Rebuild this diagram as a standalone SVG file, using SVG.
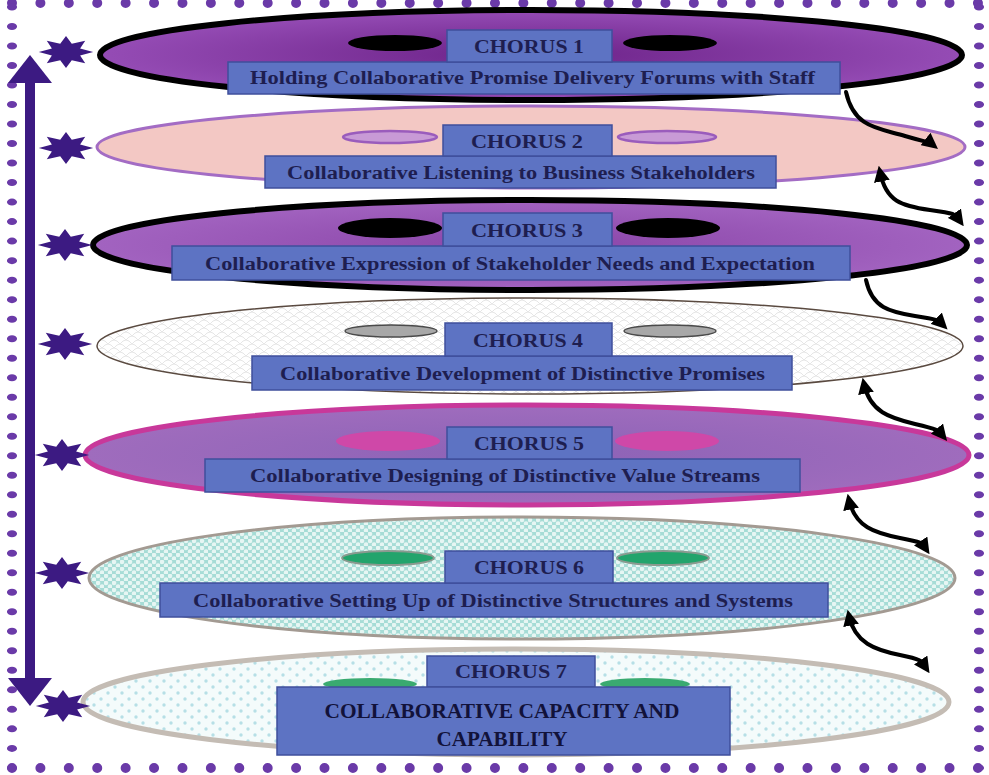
<svg xmlns="http://www.w3.org/2000/svg" width="989" height="775" viewBox="0 0 989 775">
<style>
.box{fill:#5d73c3;stroke:#3f4f9c;stroke-width:1.5}
.t{font-family:"Liberation Serif","Times New Roman",serif;font-weight:bold;fill:#1e1e50}
.ch{font-size:18px}
.sub{font-size:18px}
.big{font-family:"Liberation Serif","Times New Roman",serif;font-size:20px;font-weight:bold;fill:#12123a}
.star{fill:#3c1a82}
.conn{fill:none;stroke:#000;stroke-width:4;stroke-linecap:round}
</style>
<defs>
<radialGradient id="g1" cx="50%" cy="50%" r="50%">
<stop offset="0" stop-color="#6c2288"/><stop offset="1" stop-color="#954cb5"/>
</radialGradient>
<radialGradient id="g3" cx="50%" cy="50%" r="50%">
<stop offset="0" stop-color="#8a45a8"/><stop offset="1" stop-color="#a263c0"/>
</radialGradient>
<radialGradient id="g5" cx="50%" cy="50%" r="50%">
<stop offset="0" stop-color="#8c62b6"/><stop offset="1" stop-color="#9f6cbd"/>
</radialGradient>
<pattern id="p4" width="12" height="8" patternUnits="userSpaceOnUse">
<rect width="12" height="8" fill="#ffffff"/>
<path d="M0 8 Q6 0 12 8 M-6 4 Q0 -4 6 4 M6 4 Q12 -4 18 4" fill="none" stroke="#e6e6e6" stroke-width="1"/>
</pattern>
<pattern id="p6" width="8" height="7" patternUnits="userSpaceOnUse">
<rect width="8" height="7" fill="#a6dcd6"/>
<circle cx="2" cy="2" r="2.3" fill="#e6f6f3"/>
<circle cx="6" cy="5.5" r="2.3" fill="#e6f6f3"/>
</pattern>
<pattern id="p7" width="14" height="12" patternUnits="userSpaceOnUse">
<rect width="14" height="12" fill="#f4fbfb"/>
<circle cx="3" cy="3" r="1.7" fill="#b6dfe6"/>
<circle cx="10" cy="9" r="1.7" fill="#b6dfe6"/>
</pattern>
<path id="starshape" d="M16 0 L8.3 3.4 L11.3 11.3 L3.4 8.3 L0 16 L-3.4 8.3 L-11.3 11.3 L-8.3 3.4 L-16 0 L-8.3 -3.4 L-11.3 -11.3 L-3.4 -8.3 L0 -16 L3.4 -8.3 L11.3 -11.3 L8.3 -3.4 Z"/>
<marker id="ah" viewBox="0 0 10 10" refX="6" refY="5" markerWidth="4" markerHeight="4" orient="auto-start-reverse" markerUnits="strokeWidth">
<path d="M0 0 L10 5 L0 10 Z" fill="#000"/>
</marker>
</defs>
<rect width="989" height="775" fill="#ffffff"/>
<g id="frame" stroke="#6a3aa8" stroke-linecap="round" fill="none">
<line x1="12" y1="3" x2="978" y2="3" stroke-width="10" stroke-dasharray="0 28.41"/>
<line x1="12" y1="768" x2="978" y2="768" stroke-width="10" stroke-dasharray="0 28.41"/>
<line x1="0" y1="7" x2="0" y2="768" stroke-width="7" stroke-dasharray="0 19.51" transform="translate(12,0) scale(1.45,1)"/>
<line x1="0" y1="7" x2="0" y2="768" stroke-width="7" stroke-dasharray="0 19.51" transform="translate(979,0) scale(1.45,1)"/>
</g>
<g id="chorus1">
<ellipse cx="531" cy="55" rx="431" ry="45" fill="url(#g1)" stroke="#000" stroke-width="6"/>
<ellipse cx="395" cy="43" rx="47" ry="8" fill="#000"/>
<ellipse cx="670" cy="43" rx="47" ry="8" fill="#000"/>
<rect class="box" x="228" y="62" width="612" height="32"/>
<rect class="box" x="447" y="30" width="165" height="32"/>
<text class="t ch" x="529" y="53" text-anchor="middle" textLength="110" lengthAdjust="spacingAndGlyphs">CHORUS 1</text>
<text class="t sub" x="250" y="84" textLength="565" lengthAdjust="spacingAndGlyphs">Holding Collaborative Promise Delivery Forums with Staff</text>
</g>
<g id="chorus2">
<ellipse cx="531" cy="147" rx="434" ry="41" fill="#f3c8c4" stroke="#a36cc4" stroke-width="3"/>
<ellipse cx="390" cy="137" rx="47" ry="6" fill="#c89ad6" stroke="#9a5cbc" stroke-width="2.5"/>
<ellipse cx="667" cy="137" rx="49" ry="6" fill="#c89ad6" stroke="#9a5cbc" stroke-width="2.5"/>
<rect class="box" x="265" y="156" width="511" height="32"/>
<rect class="box" x="443" y="125" width="169" height="31"/>
<text class="t ch" x="527" y="148" text-anchor="middle" textLength="112" lengthAdjust="spacingAndGlyphs">CHORUS 2</text>
<text class="t sub" x="287" y="179" textLength="468" lengthAdjust="spacingAndGlyphs">Collaborative Listening to Business Stakeholders</text>
</g>
<g id="chorus3">
<ellipse cx="530" cy="245" rx="437" ry="45" fill="url(#g3)" stroke="#000" stroke-width="6"/>
<ellipse cx="390" cy="228" rx="52" ry="10" fill="#000"/>
<ellipse cx="668" cy="228" rx="52" ry="10" fill="#000"/>
<rect class="box" x="172" y="246" width="678" height="34"/>
<rect class="box" x="443" y="213" width="169" height="33"/>
<text class="t ch" x="527" y="237" text-anchor="middle" textLength="112" lengthAdjust="spacingAndGlyphs">CHORUS 3</text>
<text class="t sub" x="205" y="270" textLength="610" lengthAdjust="spacingAndGlyphs">Collaborative Expression of Stakeholder Needs and Expectation</text>
</g>
<g id="chorus4">
<ellipse cx="530" cy="346" rx="433" ry="48" fill="url(#p4)" stroke="#5a4a40" stroke-width="1.5"/>
<ellipse cx="391" cy="331" rx="46" ry="6" fill="#a8a8a8" stroke="#4a4a4a" stroke-width="1.5"/>
<ellipse cx="670" cy="331" rx="46" ry="6" fill="#a8a8a8" stroke="#4a4a4a" stroke-width="1.5"/>
<rect class="box" x="252" y="356" width="540" height="34"/>
<rect class="box" x="445" y="323" width="167" height="33"/>
<text class="t ch" x="528" y="347" text-anchor="middle" textLength="110" lengthAdjust="spacingAndGlyphs">CHORUS 4</text>
<text class="t sub" x="280" y="380" textLength="485" lengthAdjust="spacingAndGlyphs">Collaborative Development of Distinctive Promises</text>
</g>
<g id="chorus5">
<ellipse cx="527" cy="455" rx="442" ry="50" fill="url(#g5)" stroke="#c8389a" stroke-width="5"/>
<ellipse cx="388" cy="441" rx="52" ry="10" fill="#cf48a8"/>
<ellipse cx="667" cy="441" rx="52" ry="10" fill="#cf48a8"/>
<rect class="box" x="205" y="459" width="595" height="33"/>
<rect class="box" x="447" y="427" width="165" height="32"/>
<text class="t ch" x="529" y="450" text-anchor="middle" textLength="110" lengthAdjust="spacingAndGlyphs">CHORUS 5</text>
<text class="t sub" x="250" y="482" textLength="510" lengthAdjust="spacingAndGlyphs">Collaborative Designing of Distinctive Value Streams</text>
</g>
<g id="chorus6">
<ellipse cx="522" cy="578" rx="433" ry="61" fill="url(#p6)" stroke="#a39a92" stroke-width="3"/>
<ellipse cx="388" cy="558" rx="46" ry="7" fill="#22a46c" stroke="#8a9a90" stroke-width="2"/>
<ellipse cx="663" cy="558" rx="46" ry="7" fill="#22a46c" stroke="#8a9a90" stroke-width="2"/>
<rect class="box" x="160" y="583" width="668" height="34"/>
<rect class="box" x="445" y="551" width="168" height="32"/>
<text class="t ch" x="529" y="574" text-anchor="middle" textLength="110" lengthAdjust="spacingAndGlyphs">CHORUS 6</text>
<text class="t sub" x="193" y="607" textLength="600" lengthAdjust="spacingAndGlyphs">Collaborative Setting Up of Distinctive Structures and Systems</text>
</g>
<g id="chorus7">
<ellipse cx="516" cy="702" rx="433" ry="53" fill="url(#p7)" stroke="#c4bcb4" stroke-width="5"/>
<ellipse cx="370" cy="684" rx="47" ry="6" fill="#3aaa70"/>
<ellipse cx="645" cy="684" rx="45" ry="6" fill="#3aaa70"/>
<rect class="box" x="427" y="656" width="168" height="31"/>
<rect class="box" x="277" y="687" width="453" height="68"/>
<text class="t ch" x="511" y="678" text-anchor="middle" textLength="112" lengthAdjust="spacingAndGlyphs">CHORUS 7</text>
<text class="big" x="502" y="718" text-anchor="middle" textLength="355" lengthAdjust="spacingAndGlyphs">COLLABORATIVE CAPACITY AND</text>
<text class="big" x="502" y="746" text-anchor="middle" textLength="131" lengthAdjust="spacingAndGlyphs">CAPABILITY</text>
</g>
<g id="connectors">
<line x1="30" y1="74" x2="30" y2="688" stroke="#3c1a82" stroke-width="10"/>
<polygon points="30,55 8,83 52,83" fill="#3c1a82"/>
<polygon points="30,706 8,678 52,678" fill="#3c1a82"/>
<use href="#starshape" class="star" transform="translate(66,52) scale(1.7,1)"/>
<use href="#starshape" class="star" transform="translate(66,148) scale(1.7,1)"/>
<use href="#starshape" class="star" transform="translate(65,245) scale(1.7,1)"/>
<use href="#starshape" class="star" transform="translate(65,344) scale(1.7,1)"/>
<use href="#starshape" class="star" transform="translate(62,455) scale(1.7,1)"/>
<use href="#starshape" class="star" transform="translate(62,573) scale(1.7,1)"/>
<use href="#starshape" class="star" transform="translate(63,706) scale(1.7,1)"/>
<path class="conn" d="M846 92 C854 128 878 128 905 136 S928 141 933 145" marker-end="url(#ah)"/>
<path class="conn" d="M880 172 C886 202 902 206 930 210 S955 214 960 221" marker-start="url(#ah)" marker-end="url(#ah)"/>
<path class="conn" d="M866 280 C872 308 890 312 915 316 S938 320 943 325" marker-end="url(#ah)"/>
<path class="conn" d="M864 384 C870 412 890 418 915 424 S938 430 943 436" marker-start="url(#ah)" marker-end="url(#ah)"/>
<path class="conn" d="M849 500 C855 527 875 533 900 538 S922 543 926 549" marker-start="url(#ah)" marker-end="url(#ah)"/>
<path class="conn" d="M849 616 C855 643 875 650 900 655 S922 662 926 668" marker-start="url(#ah)" marker-end="url(#ah)"/>
</g>
</svg>
